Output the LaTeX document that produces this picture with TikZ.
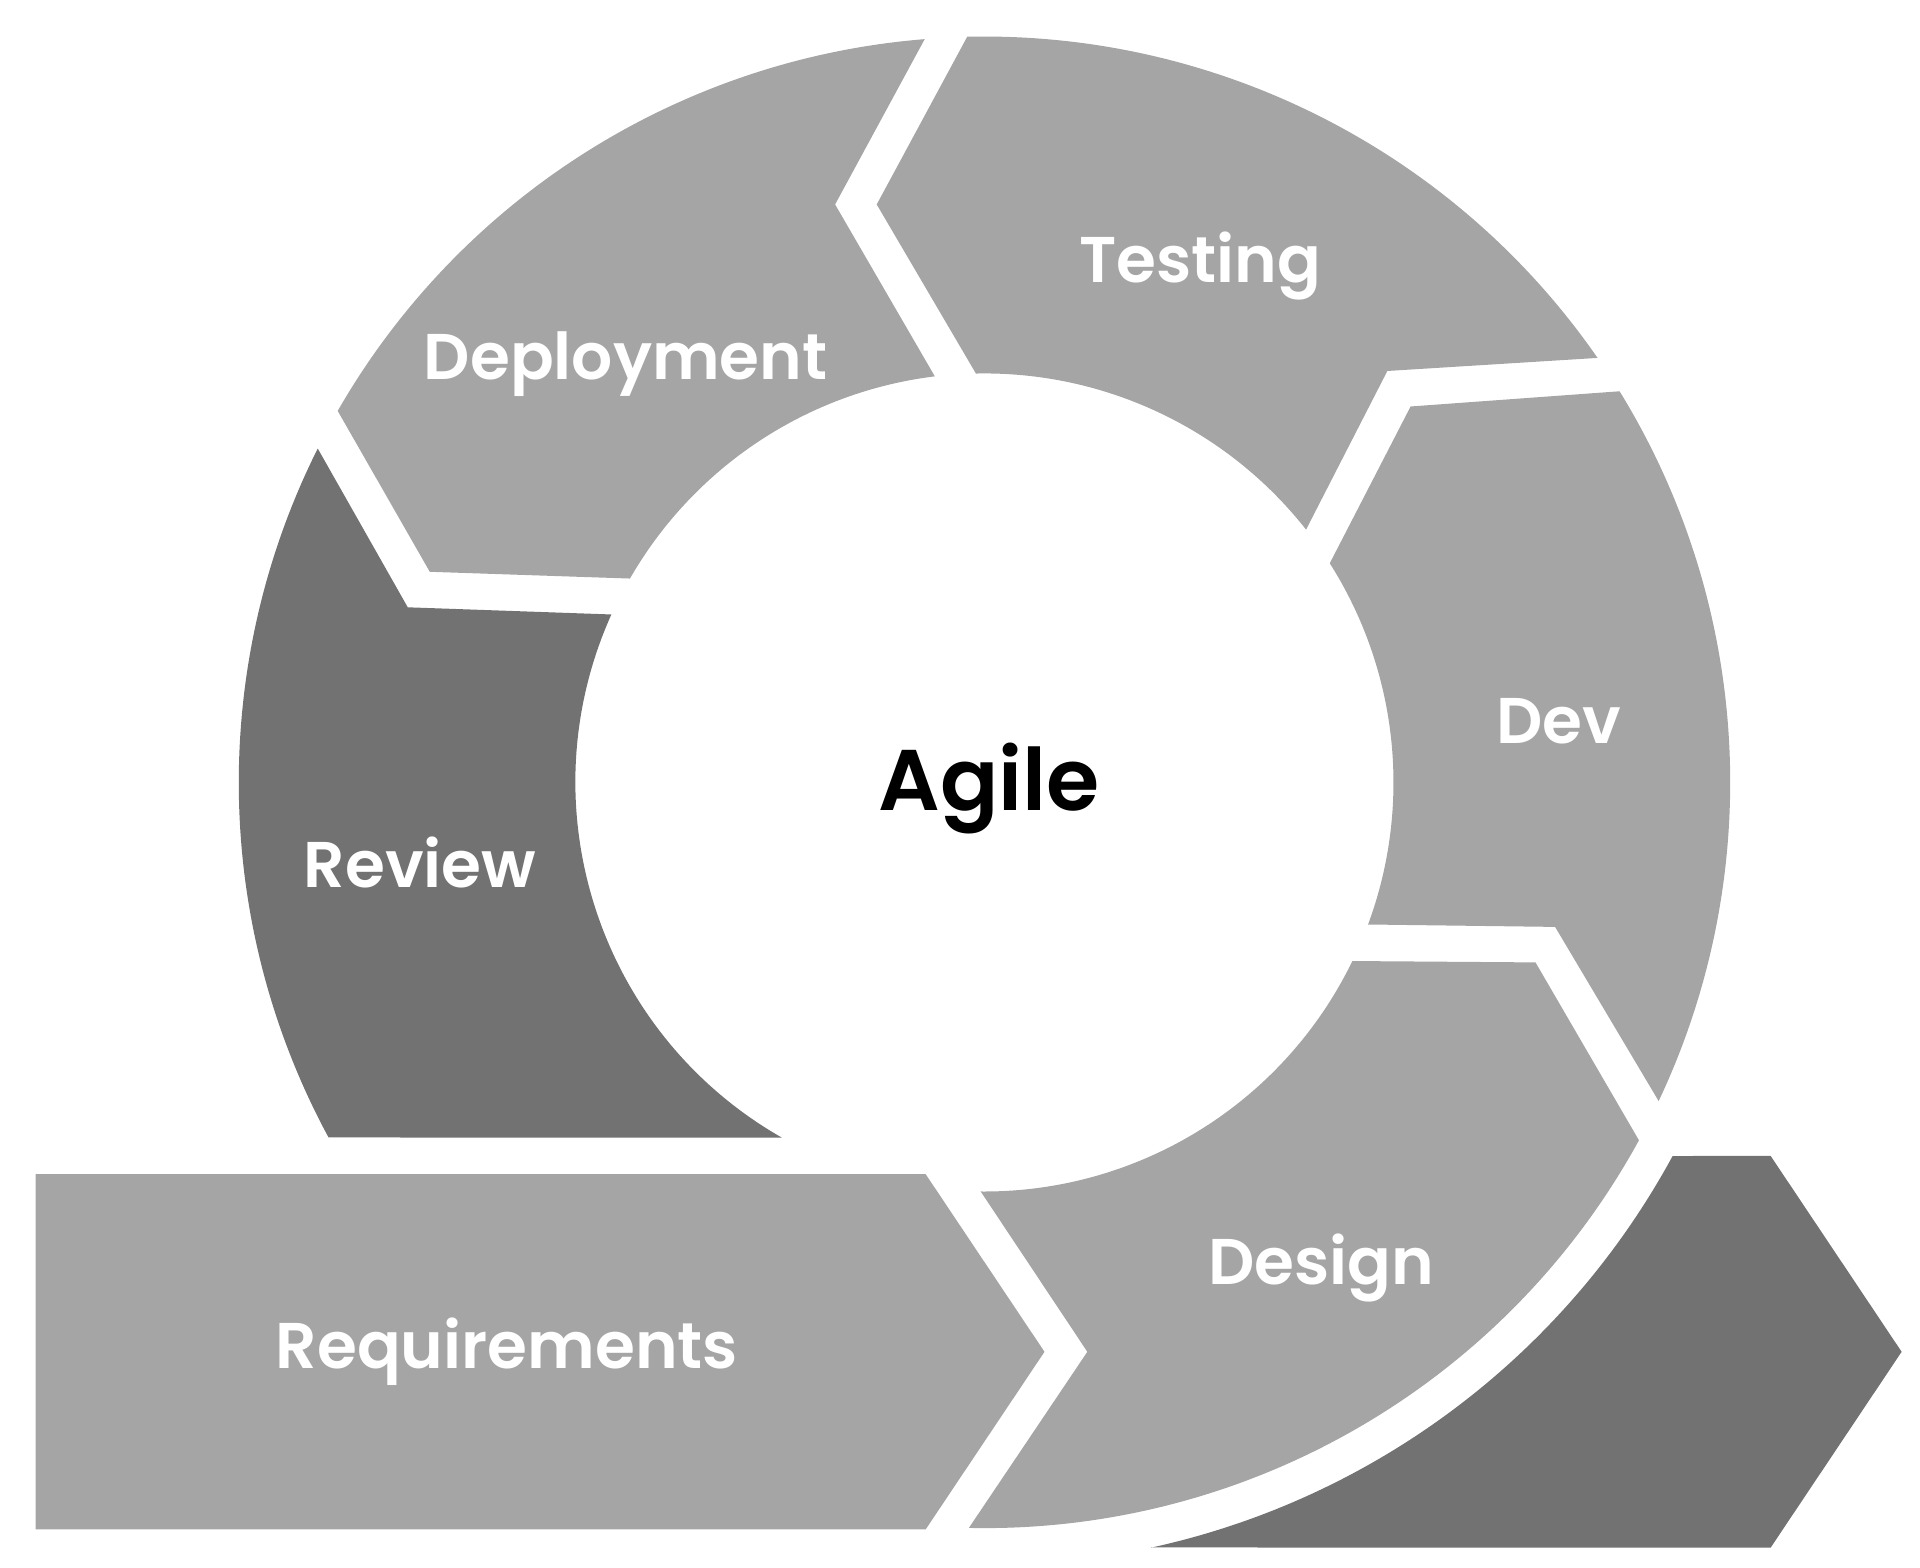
\documentclass[tikz,border=0pt]{standalone}
\usepackage{fontspec}
\setmainfont{Poppins}
\newfontfamily\stagefont{Poppins SemiBold}
\usepackage{xcolor}
\usepackage{tikz}
\usetikzlibrary{positioning}

\definecolor{stagegray}{HTML}{A5A5A5}
\definecolor{stagedark}{HTML}{727272}

\begin{document}
\begin{tikzpicture}[
    x=0.01cm, y=0.01cm,
    stage/.style={fill=stagegray},
    darkstage/.style={fill=stagedark},
    stagetext/.style={text=white, font=\stagefont\fontsize{15}{18}\selectfont, anchor=base, inner sep=0pt},
    hubtext/.style={text=black, font=\stagefont\fontsize{20}{24}\selectfont, anchor=base, inner sep=0pt}
]
\useasboundingbox (0,0) rectangle (1568,1280);

\begin{scope}[shift={(804,641)}]
% requirements arrow
\fill[stage] (-775,-320) -- (-48,-320) -- (49,-465) -- (-48,-610) -- (-775,-610) -- cycle;
% design
\fill[stage] (-91.2:609) arc[start angle=-91.2, end angle=-28.7, radius=6.09cm]
    -- (450,-147) -- (-25.9:334) arc[start angle=-25.9, end angle=-90.5, radius=3.34cm]
    -- (84,-465) -- cycle;
% dev
\fill[stage] (-25.3:609) arc[start angle=-25.3, end angle=31.6, radius=6.09cm]
    -- (348,307) -- (32.4:334) arc[start angle=32.4, end angle=-20.3, radius=3.34cm]
    -- (466,-118) -- cycle;
% testing
\fill[stage] (34.7:609) arc[start angle=34.7, end angle=91.3, radius=6.09cm]
    -- (-88,472) -- (91.2:334) arc[start angle=91.2, end angle=38.2, radius=3.34cm]
    -- (329,336) -- cycle;
% deployment
\fill[stage] (94.6:609) arc[start angle=94.6, end angle=150.1, radius=6.09cm]
    -- (-453,172) -- (150.1:334) arc[start angle=150.1, end angle=97.0, radius=3.34cm]
    -- (-122,472) -- cycle;
% review
\fill[darkstage] (153.4:609) arc[start angle=153.4, end angle=208.4, radius=6.09cm]
    -- (240.3:334) arc[start angle=240.3, end angle=155.8, radius=3.34cm]
    -- (-471,143) -- cycle;
% outer dark arrow
\fill[darkstage] (-77.7:639.5) -- (642,-625) -- (749,-465) -- (642,-305)
    -- (-28.5:639.5) arc[start angle=-28.5, end angle=-77.7, radius=6.395cm] -- cycle;
\end{scope}

\node[stagetext] (testing) at (980,1049) {Testing};
\node[stagetext] (deployment) at (511,970) {Deployment};
\node[stagetext] (dev) at (1273,673) {Dev};
\node[hubtext] (agile) at (808,618) {Agile};
\node[stagetext] (review) at (343,555) {Review};
\node[stagetext] (requirements) at (414,162) {Requirements};
\node[stagetext] (design) at (1079,231) {Design};

\end{tikzpicture}
\end{document}
